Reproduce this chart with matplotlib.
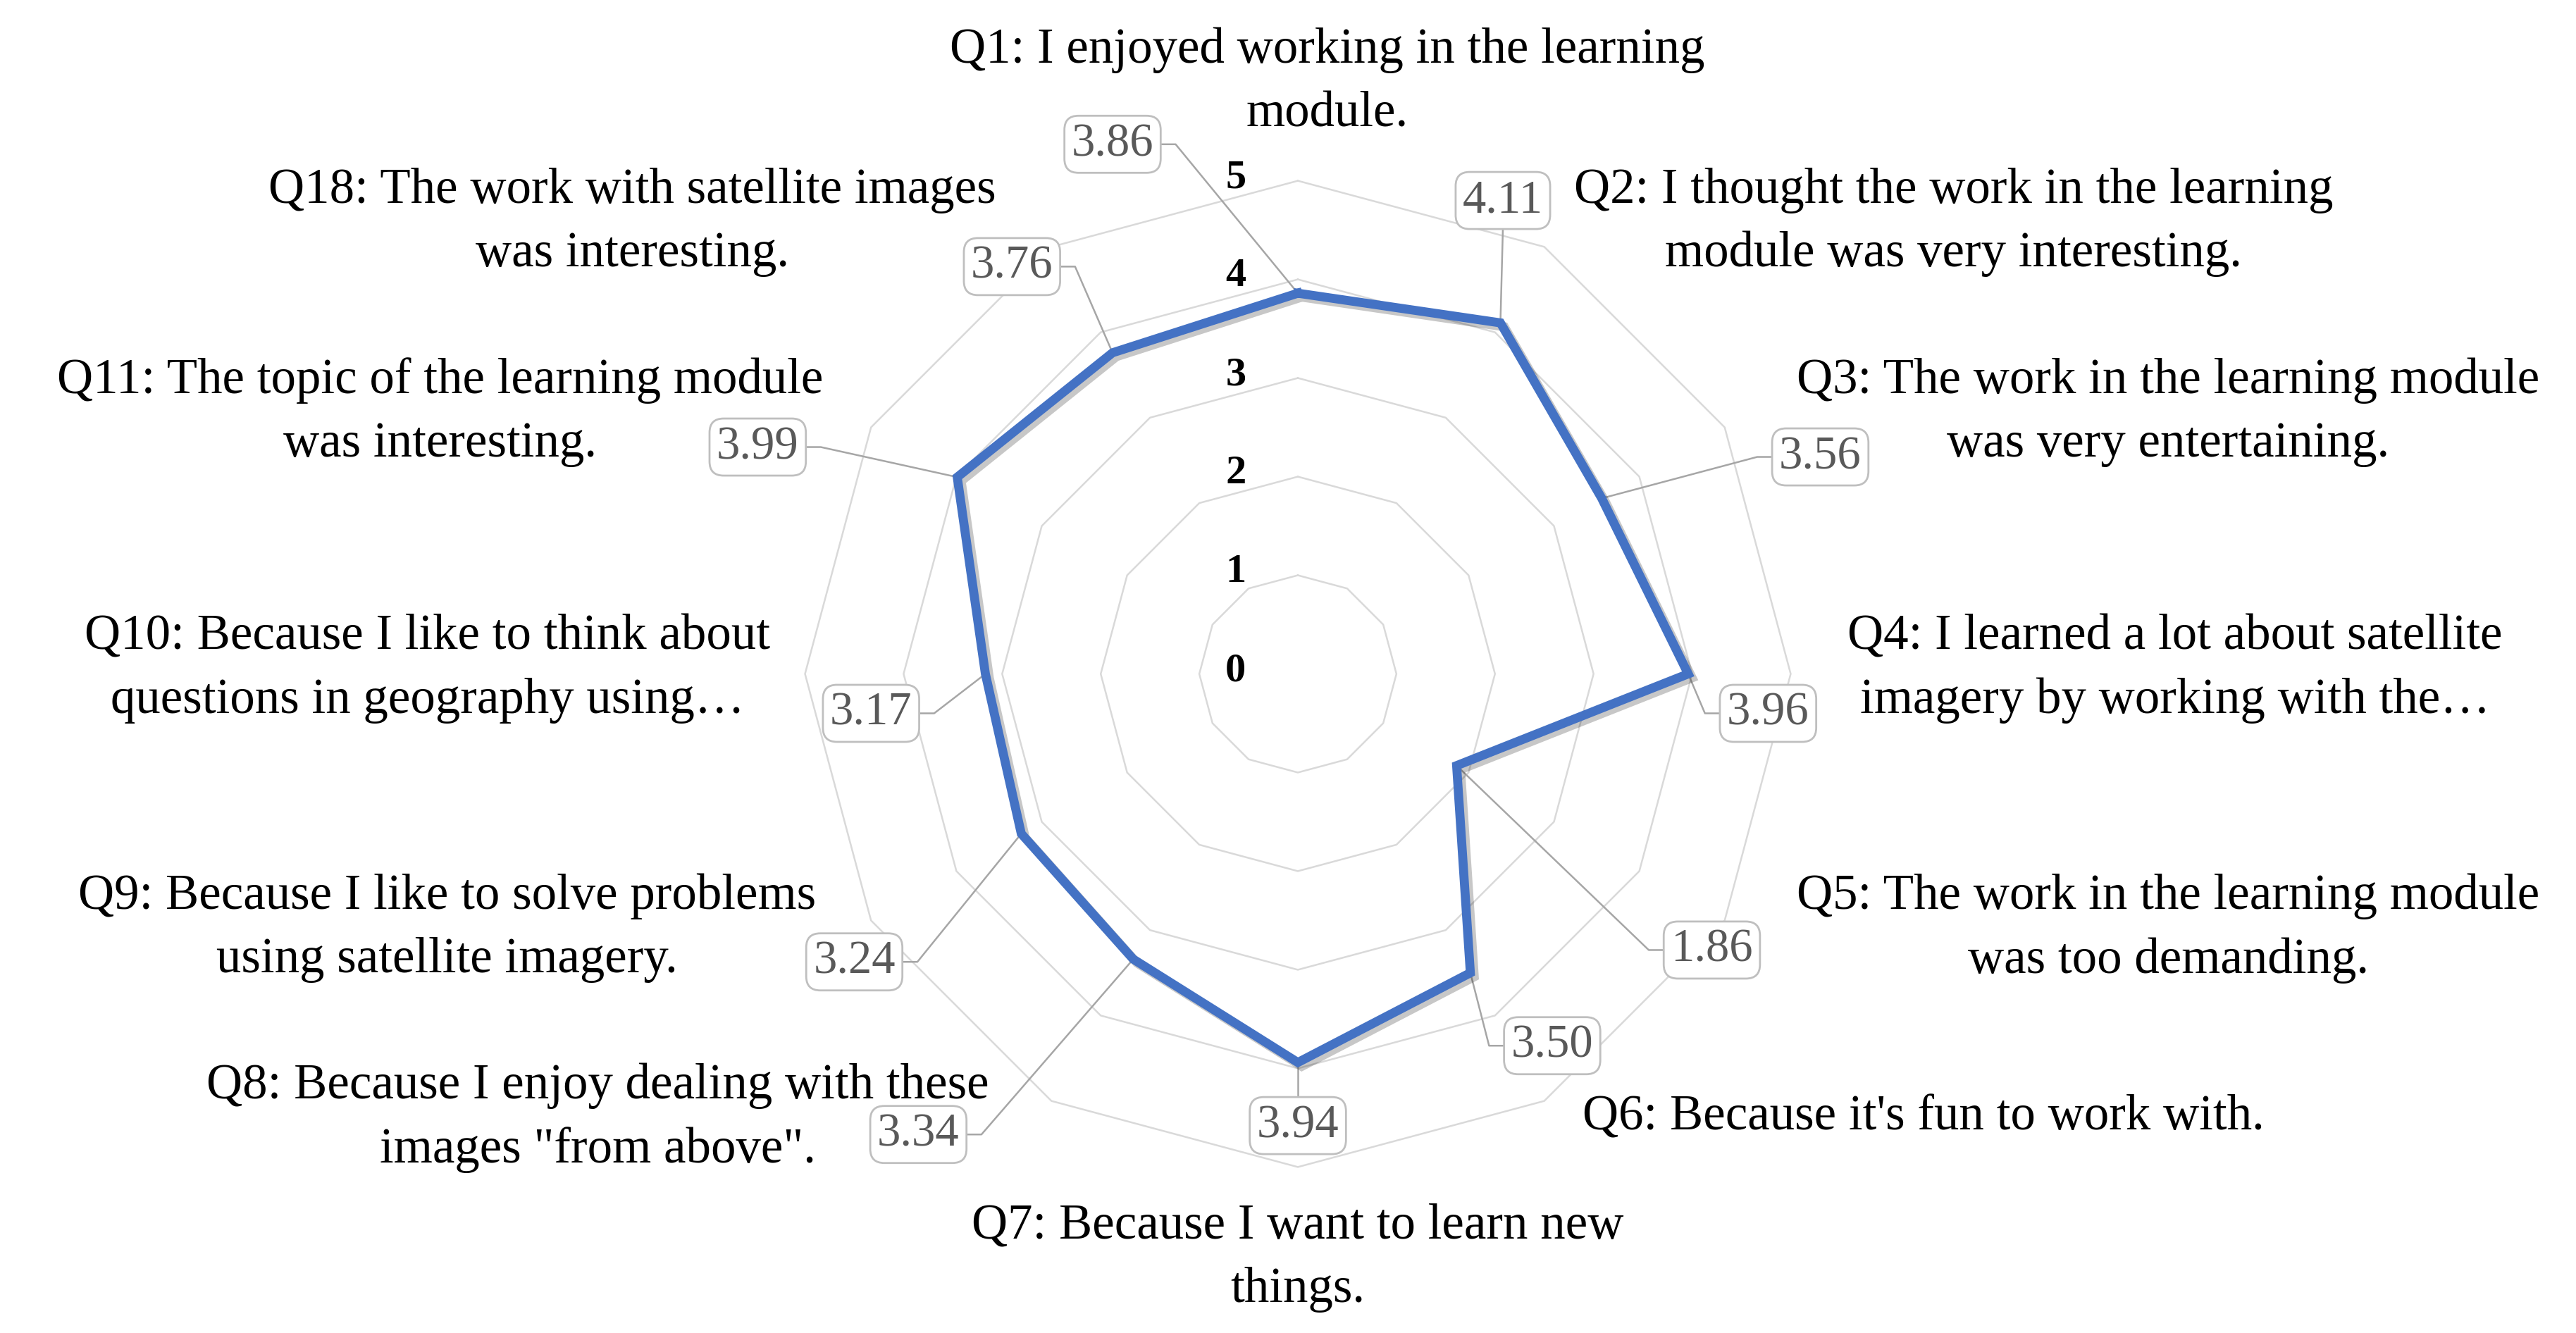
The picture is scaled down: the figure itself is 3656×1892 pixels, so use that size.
import numpy as np
import matplotlib.pyplot as plt
import matplotlib.patheffects as pe

# data
questions = [
    "Q1: I enjoyed working in the learning\nmodule.",
    "Q2: I thought the work in the learning\nmodule was very interesting.",
    "Q3: The work in the learning module\nwas very entertaining.",
    "Q4: I learned a lot about satellite\nimagery by working with the\u2026",
    "Q5: The work in the learning module\nwas too demanding.",
    "Q6: Because it's fun to work with.",
    "Q7: Because I want to learn new\nthings.",
    "Q8: Because I enjoy dealing with these\nimages \"from above\".",
    "Q9: Because I like to solve problems\nusing satellite imagery.",
    "Q10: Because I like to think about\nquestions in geography using\u2026",
    "Q11: The topic of the learning module\nwas interesting.",
    "Q18: The work with satellite images\nwas interesting.",
]
scores = [3.86, 4.11, 3.56, 3.96, 1.86, 3.50, 3.94, 3.34, 3.24, 3.17, 3.99, 3.76]
levels = [0, 1, 2, 3, 4, 5]

# layout, in scale units (1 unit = one ring step)
label_xy = [(0.30, 6.0), (6.65, 4.58), (8.83, 2.65), (8.9, 0.05), (8.83, -2.58),
            (6.35, -4.5), (0.0, -5.92), (-7.1, -4.5), (-8.63, -2.58),
            (-8.83, 0.05), (-8.7, 2.65), (-6.75, 4.58)]
box_xy = [(-1.88, 5.37), (2.08, 4.8), (5.3, 2.2), (4.77, -0.4), (4.2, -2.8),
          (2.58, -3.77), (0.0, -4.58), (-3.85, -4.67), (-4.5, -2.92),
          (-4.33, -0.4), (-5.48, 2.3), (-2.9, 4.13)]
box_side = ['r', 'b', 'l', 'l', 'l', 'l', 't', 'r', 'r', 'r', 'r', 'r']

serif = ['Liberation Serif', 'DejaVu Serif']
blue = '#4472C4'

n = len(scores)
theta = np.arange(n) * 2 * np.pi / n

def to_xy(r):
    r = np.asarray(r, dtype=float)
    return r * np.sin(theta), r * np.cos(theta)

fig = plt.figure(figsize=(18.28, 9.46), dpi=200)
ax = fig.add_axes([0, 0, 1, 1])
ax.set_xlim(-13.167, 12.967)
ax.set_ylim(-6.683, 6.833)
ax.axis('off')

# grid rings
for lv in levels[1:]:
    gx, gy = to_xy(np.full(n, lv))
    ax.plot(np.append(gx, gx[0]), np.append(gy, gy[0]), color='#D9D9D9', lw=0.9, zorder=1)

for lv in levels:
    ax.text(-0.63, lv + 0.03, str(lv), ha='center', va='center', fontsize=21,
            fontweight='bold', family=serif, color='black', zorder=6)

# series
px, py = to_xy(scores)
ax.plot(np.append(px, px[0]), np.append(py, py[0]), color=blue, lw=4.6, zorder=3,
        solid_joinstyle='miter',
        path_effects=[pe.SimpleLineShadow(offset=(2, -2), shadow_color='k', alpha=0.22),
                      pe.Normal()])

# value labels with leader lines
hw, hh = 0.44, 0.29
for i in range(n):
    bx, by = box_xy[i]
    s = box_side[i]
    if s == 'r':
        lx, ly = [bx + hw, bx + hw + 0.2, px[i]], [by, by, py[i]]
    elif s == 'l':
        lx, ly = [bx - hw, bx - hw - 0.2, px[i]], [by, by, py[i]]
    elif s == 'b':
        lx, ly = [bx, px[i]], [by - hh, py[i]]
    else:
        lx, ly = [bx, px[i]], [by + hh, py[i]]
    ax.plot(lx, ly, color='#A6A6A6', lw=0.9, zorder=2)
    ax.text(bx, by, f"{scores[i]:.2f}", ha='center', va='center', fontsize=24,
            family=serif, color='#595959', zorder=5,
            bbox=dict(boxstyle='round,pad=0.15,rounding_size=0.3', fc='white',
                      ec='#BFBFBF', lw=1.0))

# category labels
for i in range(n):
    lx, ly = label_xy[i]
    ax.text(lx, ly, questions[i], ha='center', va='center', multialignment='center',
            fontsize=25.5, family=serif, color='black', linespacing=1.5, zorder=6)

fig.savefig('out.png', dpi=200, facecolor='white')
